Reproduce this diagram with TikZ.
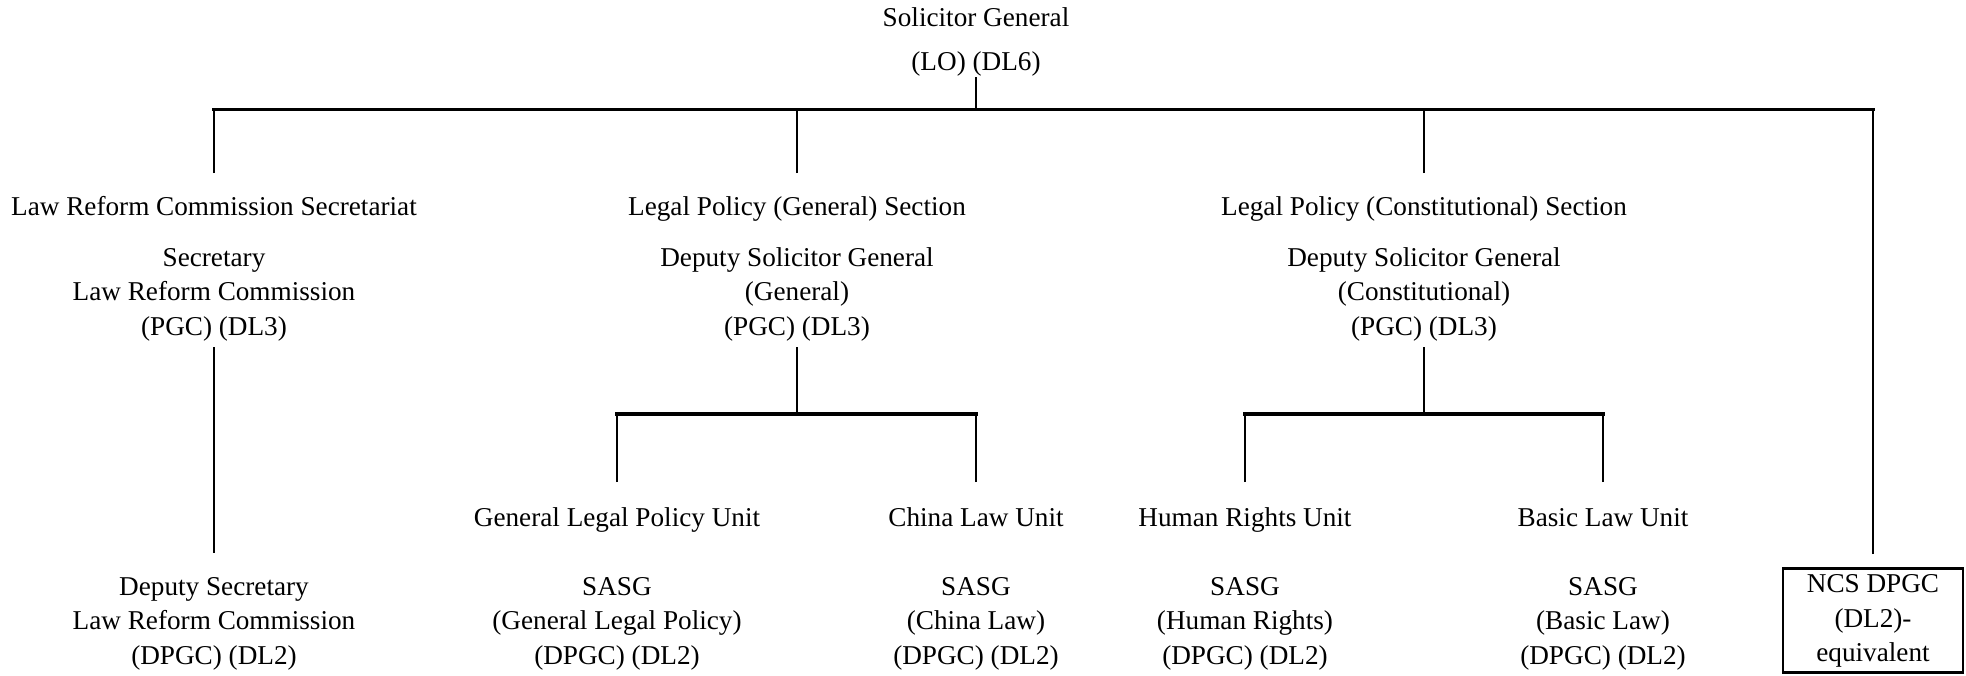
\documentclass[tikz,border=0pt]{standalone}
\usepackage{fontspec}
\setmainfont{Liberation Serif}
\begin{document}
\begin{tikzpicture}[x=0.5pt,y=-0.5pt,
  txt/.style={inner sep=0pt, font=\fontsize{13.6}{17.25}\selectfont, align=center},
  lbl/.style={txt, anchor=base},
  blk/.style={txt, anchor=north},
  vlnk/.style={line width=1.35pt},
  hlnk/.style={line width=1.65pt, line cap=rect}]
\useasboundingbox (0,0) rectangle (1966,675);

% top
\node[lbl] (sg) at (976,26.7) {Solicitor General};
\node[lbl] (sgr) at (976,70.7) {(LO) (DL6)};

% sections
\node[lbl] (lrcs) at (214,215) {Law Reform Commission Secretariat};
\node[lbl] (lpg) at (797,215) {Legal Policy (General) Section};
\node[lbl] (lpc) at (1424,215) {Legal Policy (Constitutional) Section};

% heads
\node[blk] (seclrc) at (214,241.85) {\strut Secretary\\\strut Law Reform Commission\\\strut (PGC) (DL3)};
\node[blk] (dsgg) at (797,241.85) {\strut Deputy Solicitor General\\\strut (General)\\\strut (PGC) (DL3)};
\node[blk] (dsgc) at (1424,241.85) {\strut Deputy Solicitor General\\\strut (Constitutional)\\\strut (PGC) (DL3)};

% units
\node[lbl] (glpu) at (617,526) {General Legal Policy Unit};
\node[lbl] (clu) at (976,526) {China Law Unit};
\node[lbl] (hru) at (1245,526) {Human Rights Unit};
\node[lbl] (blu) at (1603,526) {Basic Law Unit};

% bottom
\node[blk] (dslrc) at (214,570.85) {\strut Deputy Secretary\\\strut Law Reform Commission\\\strut (DPGC) (DL2)};
\node[blk] (sglp) at (617,570.85) {\strut SASG\\\strut (General Legal Policy)\\\strut (DPGC) (DL2)};
\node[blk] (scl) at (976,570.85) {\strut SASG\\\strut (China Law)\\\strut (DPGC) (DL2)};
\node[blk] (shr) at (1245,570.85) {\strut SASG\\\strut (Human Rights)\\\strut (DPGC) (DL2)};
\node[blk] (sbl) at (1603,570.85) {\strut SASG\\\strut (Basic Law)\\\strut (DPGC) (DL2)};
\node[txt, draw, line width=1.4pt, minimum width=90pt, minimum height=52pt, anchor=center] (ncs) at (1873,620.5) {\strut NCS DPGC\\\strut (DL2)-\\\strut equivalent};

% connector points
\coordinate (sg-out) at (976,77);
\coordinate (bus) at (976,109.3);
\coordinate (lrcs-in) at (214,173);
\coordinate (lpg-in) at (797,173);
\coordinate (lpc-in) at (1424,173);
\coordinate (ncs-in) at (1873,554);
\coordinate (seclrc-out) at (214,347);
\coordinate (dslrc-in) at (214,553);
\coordinate (dsgg-out) at (797,347);
\coordinate (gbus) at (797,414);
\coordinate (glpu-in) at (617,482);
\coordinate (clu-in) at (976,482);
\coordinate (dsgc-out) at (1424,347);
\coordinate (cbus) at (1424,414);
\coordinate (hru-in) at (1245,482);
\coordinate (blu-in) at (1603,482);

% horizontal bars
\draw[hlnk] (lrcs-in |- bus) -- (ncs-in |- bus);
\draw[hlnk] (glpu-in |- gbus) -- (clu-in |- gbus);
\draw[hlnk] (hru-in |- cbus) -- (blu-in |- cbus);

% vertical connectors
\draw[vlnk] (sg-out) -- (bus);
\draw[vlnk] (lrcs-in) -- (lrcs-in |- bus);
\draw[vlnk] (lpg-in) -- (lpg-in |- bus);
\draw[vlnk] (lpc-in) -- (lpc-in |- bus);
\draw[vlnk] (ncs-in) -- (ncs-in |- bus);
\draw[vlnk] (seclrc-out) -- (dslrc-in);
\draw[vlnk] (dsgg-out) -- (gbus);
\draw[vlnk] (glpu-in) -- (glpu-in |- gbus);
\draw[vlnk] (clu-in) -- (clu-in |- gbus);
\draw[vlnk] (dsgc-out) -- (cbus);
\draw[vlnk] (hru-in) -- (hru-in |- cbus);
\draw[vlnk] (blu-in) -- (blu-in |- cbus);
\end{tikzpicture}
\end{document}
